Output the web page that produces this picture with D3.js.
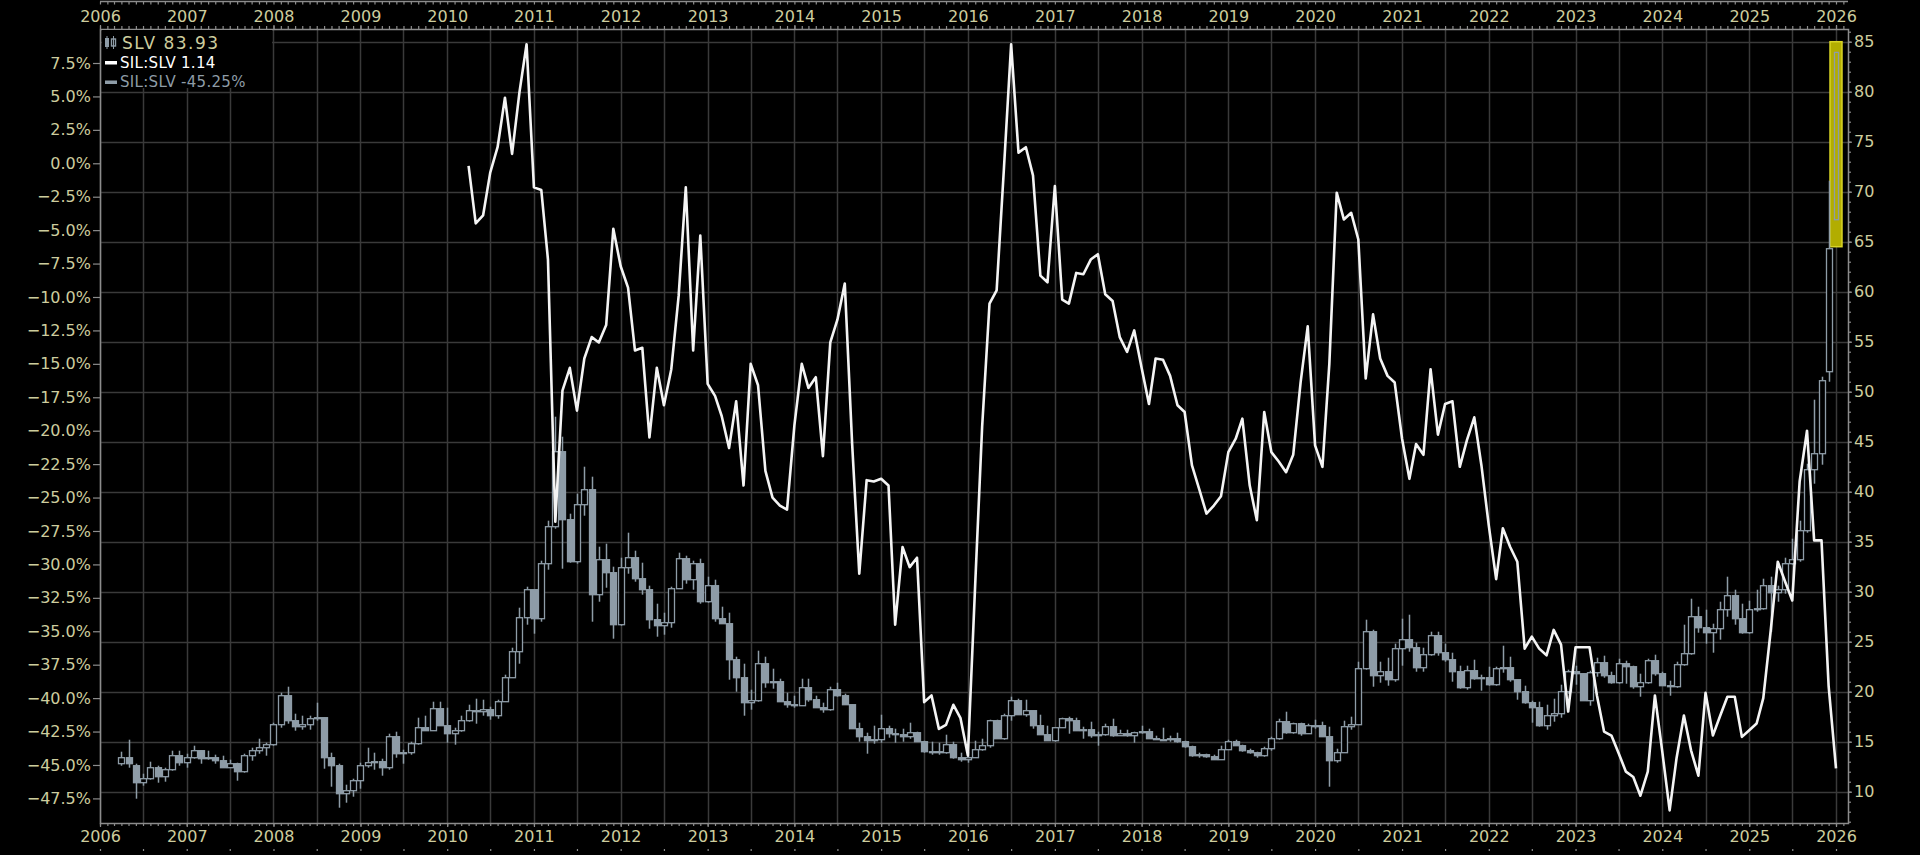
<!DOCTYPE html>
<html lang="en">
<head>
	<meta charset="utf-8">
	<title>SLV and SIL:SLV</title>
	<script src="https://d3js.org/d3.v7.min.js"></script>
	<style type="text/css">
		body { margin: 0; background: #000; overflow: hidden; }
		svg text { font-family: "DejaVu Sans", sans-serif; }
	</style>
</head>
<body>
<script type="text/javascript">

	//Tick labels
	let yearLabels = [2006, 2007, 2008, 2009, 2010, 2011, 2012, 2013, 2014, 2015, 2016,
		2017, 2018, 2019, 2020, 2021, 2022, 2023, 2024, 2025, 2026];
	let pctTicks = [7.5, 5, 2.5, 0, -2.5, -5, -7.5, -10, -12.5, -15, -17.5, -20, -22.5, -25,
		-27.5, -30, -32.5, -35, -37.5, -40, -42.5, -45, -47.5];
	let priceTicks = [85, 80, 75, 70, 65, 60, 55, 50, 45, 40, 35, 30, 25, 20, 15, 10];

	//SIL:SLV, % change, one point a month from Apr 2010
	let ratioStart = [2010, 4];
	let ratioPct = [
		-0.2, -4.5, -3.9, -0.7, 1.2, 4.9, 0.7, 5.3, 8.9,            // 2010
		-1.8, -2.0, -7.2, -26.8, -17.0, -15.3, -18.5, -14.6, -13.0, -13.4, -12.1, -4.9, // 2011
		-7.7, -9.3, -14.0, -13.8, -20.5, -15.3, -18.1, -15.4, -9.9, -1.8, -14.0, -5.4, // 2012
		-16.5, -17.4, -18.9, -21.3, -17.8, -24.1, -15.0, -16.6, -23.0, -25.0, -25.6, -25.9, // 2013
		-19.6, -15.0, -16.8, -16.0, -21.9, -13.4, -11.7, -9.0, -21.0, -30.7, -23.7, -23.8, // 2014
		-23.6, -24.1, -34.5, -28.7, -30.2, -29.5, -40.3, -39.8, -42.3, -42.0, -40.5, -41.5, // 2015
		-44.3, -31.4, -19.7, -10.5, -9.5, -0.3, 8.9, 0.8, 1.2, -0.9, -8.4, -8.9,   // 2016
		-1.7, -10.2, -10.5, -8.2, -8.3, -7.2, -6.8, -9.8, -10.3, -13.0, -14.1, -12.5, // 2017
		-15.3, -18.0, -14.6, -14.7, -15.9, -18.1, -18.6, -22.6, -24.4, -26.2, -25.6, -24.9, // 2018
		-21.6, -20.6, -19.1, -24.1, -26.7, -18.6, -21.6, -22.3, -23.1, -21.8, -16.4, -12.2, // 2019
		-21.1, -22.7, -15.0, -2.2, -4.2, -3.7, -5.7, -16.1, -11.3, -14.6, -15.9, -16.4, // 2020
		-20.6, -23.6, -21.0, -21.8, -15.4, -20.3, -18.0, -17.8, -22.7, -20.7, -19.0, -22.6, // 2021
		-27.1, -31.1, -27.3, -28.7, -29.8, -36.3, -35.4, -36.3, -36.8, -34.9, -36.0, -41.0, // 2022
		-36.2, -36.2, -36.2, -39.8, -42.5, -42.8, -44.1, -45.5, -45.9, -47.3, -45.5, -39.8, // 2023
		-44.0, -48.4, -44.5, -41.3, -43.9, -45.8, -39.6, -42.8, -41.3, -39.9, -39.9, -42.9, // 2024
		-42.4, -41.9, -40.0, -35.0, -29.8, -31.3, -32.7, -23.8, -20.0, -28.2, -28.2, -39.1, // 2025
		-45.25                                                        // 2026
	];

	//SLV monthly candles [open, high, low, close] from Apr 2006
	let slvStart = [2006, 4];
	let slvOHLC = [
		[12.8, 14.0, 12.6, 13.4], [13.4, 15.2, 12.4, 12.8], [12.6, 12.8, 9.3, 10.9], [10.9, 11.8, 10.6, 11.3],
		[11.3, 13.0, 11.2, 12.4], [12.4, 12.6, 10.9, 11.5], [11.5, 12.4, 11.0, 12.2], [12.2, 14.1, 12.1, 13.6],
		[13.6, 14.1, 12.6, 12.9],
		[12.9, 13.8, 12.4, 13.4], [13.4, 14.6, 13.3, 14.1], [14.1, 14.1, 12.8, 13.3], [13.3, 14.1, 13.2, 13.4],
		[13.4, 13.7, 12.8, 13.1], [13.1, 13.6, 12.4, 12.4], [12.4, 13.2, 12.4, 12.8], [12.8, 12.9, 11.1, 12.0],
		[12.0, 13.8, 11.9, 13.6], [13.6, 14.4, 13.1, 14.1], [14.1, 15.3, 13.8, 14.4], [14.4, 14.9, 13.6, 14.7],
		[14.7, 16.9, 14.6, 16.7], [16.7, 19.9, 16.4, 19.6], [19.6, 20.5, 16.8, 17.1], [17.1, 17.8, 16.1, 16.5],
		[16.5, 17.6, 16.2, 16.7], [16.7, 17.6, 16.2, 17.3], [17.3, 18.9, 17.1, 17.4], [17.4, 17.4, 12.3, 13.4],
		[13.4, 13.9, 10.5, 12.6], [12.6, 12.8, 8.4, 9.8], [9.8, 10.7, 8.9, 10.1], [10.1, 11.3, 9.5, 11.1],
		[11.1, 12.9, 10.3, 12.6], [12.6, 14.4, 12.4, 12.9], [12.9, 13.9, 12.2, 13.0], [13.0, 13.3, 11.6, 12.4],
		[12.4, 15.8, 12.2, 15.5], [15.5, 16.0, 13.4, 13.8], [13.8, 14.2, 12.8, 13.9], [13.9, 15.0, 13.7, 14.8],
		[14.8, 17.4, 14.7, 16.4], [16.4, 17.6, 16.1, 16.1], [16.1, 19.0, 16.1, 18.3], [18.3, 19.0, 16.6, 16.6],
		[16.6, 18.4, 14.9, 15.8], [15.8, 16.4, 14.7, 16.1], [16.1, 17.6, 16.0, 17.1], [17.1, 18.7, 17.0, 18.1],
		[18.1, 19.3, 16.8, 18.0], [18.0, 19.2, 17.6, 18.2], [18.2, 18.5, 17.2, 17.6], [17.6, 19.2, 17.3, 19.0],
		[19.0, 21.7, 19.0, 21.4], [21.4, 24.4, 21.4, 24.0], [24.0, 28.4, 22.8, 27.4], [27.4, 30.5, 26.7, 30.2],
		[30.2, 30.2, 25.8, 27.3], [27.3, 33.1, 27.0, 32.8], [32.8, 37.1, 32.2, 36.5], [36.5, 47.5, 36.3, 44.0],
		[44.0, 45.5, 32.3, 37.2], [37.2, 37.8, 32.9, 33.0], [33.0, 39.8, 32.8, 38.7], [38.7, 42.5, 37.6, 40.2],
		[40.2, 41.5, 27.0, 29.7], [29.7, 34.5, 29.0, 33.2], [33.2, 34.8, 30.4, 31.9], [31.9, 32.5, 25.3, 26.7],
		[26.7, 33.4, 26.6, 32.4], [32.4, 35.9, 31.8, 33.4], [33.4, 34.1, 31.0, 31.3], [31.3, 32.9, 29.7, 30.2],
		[30.2, 30.6, 26.3, 27.2], [27.2, 28.8, 25.5, 26.6], [26.6, 27.9, 25.7, 26.9], [26.9, 30.5, 26.4, 30.3],
		[30.3, 33.9, 30.3, 33.3], [33.3, 33.6, 30.8, 31.2], [31.2, 33.1, 30.2, 32.8], [32.8, 33.3, 28.8, 29.0],
		[29.0, 31.5, 28.9, 30.6], [30.6, 31.2, 27.0, 27.3], [27.3, 28.5, 27.0, 26.8], [26.8, 27.9, 21.2, 23.2],
		[23.2, 23.5, 20.0, 21.4], [21.4, 22.8, 17.6, 18.9], [18.9, 20.2, 18.2, 19.1], [19.1, 24.1, 19.0, 22.8],
		[22.8, 23.5, 20.4, 20.9], [20.9, 22.3, 20.3, 21.0], [21.0, 21.3, 19.0, 19.0], [19.0, 19.9, 18.4, 18.7],
		[18.7, 19.6, 18.4, 18.6], [18.6, 21.3, 18.6, 20.4], [20.4, 21.3, 19.0, 19.2], [19.2, 19.6, 18.5, 18.4],
		[18.4, 18.9, 17.9, 18.2], [18.2, 20.5, 18.1, 20.2], [20.2, 20.9, 19.5, 19.6], [19.6, 19.8, 18.8, 18.7],
		[18.7, 18.7, 16.3, 16.3], [16.3, 16.9, 15.0, 15.5], [15.5, 15.9, 13.8, 15.1], [15.1, 16.6, 14.8, 15.2],
		[15.2, 17.7, 14.9, 16.3], [16.3, 16.6, 15.4, 15.8], [15.8, 16.3, 14.9, 15.7], [15.7, 16.3, 15.0, 15.5],
		[15.5, 16.9, 15.3, 15.9], [15.9, 16.0, 15.0, 15.0], [15.0, 15.1, 13.9, 14.0], [14.0, 15.0, 13.7, 14.0],
		[14.0, 14.9, 13.7, 13.9], [13.9, 15.7, 13.8, 14.7], [14.7, 15.0, 13.3, 13.4], [13.4, 13.9, 13.0, 13.2],
		[13.2, 14.0, 12.9, 13.4], [13.4, 15.1, 13.4, 14.2], [14.2, 15.3, 14.1, 14.6], [14.6, 17.2, 14.4, 17.1],
		[17.1, 17.2, 15.4, 15.3], [15.3, 17.8, 15.2, 17.6], [17.6, 19.5, 17.1, 19.1], [19.1, 19.3, 17.7, 17.7],
		[17.7, 19.2, 17.5, 18.1], [18.1, 18.1, 16.3, 16.6], [16.6, 17.7, 15.8, 15.7], [15.7, 16.6, 15.1, 15.1],
		[15.1, 16.4, 15.0, 16.4], [16.4, 17.4, 16.4, 17.3], [17.3, 17.5, 15.8, 17.1], [17.1, 17.4, 16.1, 16.1],
		[16.1, 16.5, 15.3, 16.2], [16.2, 17.0, 15.4, 15.6], [15.6, 16.0, 14.6, 15.7], [15.7, 16.8, 15.6, 16.5],
		[16.5, 17.3, 15.5, 15.6], [15.6, 16.2, 15.6, 15.8], [15.8, 16.2, 15.5, 15.6], [15.6, 16.0, 14.9, 15.9],
		[15.9, 16.6, 15.8, 16.0], [16.0, 16.3, 15.3, 15.3], [15.3, 15.6, 15.2, 15.2], [15.2, 16.4, 15.2, 15.2],
		[15.2, 15.6, 15.0, 15.3], [15.3, 15.9, 14.9, 15.0], [15.0, 15.1, 14.4, 14.5], [14.5, 14.6, 13.5, 13.6],
		[13.6, 13.9, 13.4, 13.7], [13.7, 13.8, 13.4, 13.5], [13.5, 13.7, 13.2, 13.2], [13.2, 14.6, 13.3, 14.2],
		[14.2, 15.2, 14.2, 15.0], [15.0, 15.2, 14.6, 14.6], [14.6, 14.7, 14.0, 14.1], [14.1, 14.3, 13.8, 13.9],
		[13.9, 14.0, 13.4, 13.6], [13.6, 14.5, 13.5, 14.3], [14.3, 15.5, 14.1, 15.3], [15.3, 17.3, 15.2, 17.0],
		[17.0, 18.0, 15.8, 15.9], [15.9, 16.9, 15.8, 16.8], [16.8, 16.9, 15.6, 15.8], [15.8, 16.8, 15.8, 16.6],
		[16.6, 17.2, 16.3, 16.6], [16.6, 17.0, 15.5, 15.5], [15.5, 16.5, 10.5, 13.1], [13.1, 14.3, 12.9, 13.9],
		[13.9, 17.1, 13.9, 16.5], [16.5, 17.5, 16.2, 16.7], [16.7, 23.0, 16.7, 22.3], [22.3, 27.2, 22.2, 26.0],
		[26.0, 26.2, 20.5, 21.6], [21.6, 23.0, 20.9, 22.0], [22.0, 23.4, 20.6, 21.2], [21.2, 24.8, 21.0, 24.3],
		[24.3, 27.3, 22.6, 25.2], [25.2, 27.7, 24.0, 24.4], [24.4, 24.9, 22.0, 22.4], [22.4, 24.4, 22.0, 23.7],
		[23.7, 26.0, 23.6, 25.6], [25.6, 26.0, 23.6, 23.9], [23.9, 24.8, 23.0, 23.2], [23.2, 23.9, 21.0, 22.0],
		[22.0, 22.6, 20.3, 20.4], [20.4, 22.6, 20.2, 22.1], [22.1, 23.2, 21.2, 21.3], [21.3, 21.7, 20.1, 21.4],
		[21.4, 22.5, 20.6, 20.7], [20.7, 22.5, 20.6, 22.3], [22.3, 24.6, 21.9, 22.4], [22.4, 23.5, 21.0, 21.2],
		[21.2, 21.2, 19.2, 20.0], [20.0, 20.6, 18.8, 18.9], [18.9, 19.1, 16.9, 18.4], [18.4, 19.0, 16.5, 16.6],
		[16.6, 18.7, 16.2, 17.6], [17.6, 19.3, 17.0, 17.8], [17.8, 20.7, 17.4, 20.0], [20.0, 22.2, 19.8, 22.0],
		[22.0, 22.6, 20.7, 21.8], [21.8, 21.8, 19.2, 19.1], [19.1, 22.1, 18.6, 21.9], [21.9, 23.4, 21.5, 22.9],
		[22.9, 23.6, 21.4, 21.6], [21.6, 22.0, 20.8, 20.9], [20.9, 23.3, 20.8, 22.8], [22.8, 23.1, 20.8, 22.5],
		[22.5, 22.6, 20.3, 20.5], [20.5, 21.8, 19.5, 20.9], [20.9, 23.3, 20.8, 23.1], [23.1, 23.7, 21.6, 21.8],
		[21.8, 22.0, 20.6, 20.6], [20.6, 21.1, 19.6, 20.5], [20.5, 23.0, 20.4, 22.7], [22.7, 26.7, 22.6, 23.8],
		[23.8, 29.3, 23.7, 27.5], [27.5, 28.5, 25.9, 26.4], [26.4, 28.2, 24.8, 25.9], [25.9, 26.8, 23.9, 26.3],
		[26.3, 29.0, 25.2, 28.2], [28.2, 31.5, 27.5, 29.6], [29.6, 30.2, 26.7, 27.3], [27.3, 28.8, 25.8, 25.9],
		[25.9, 29.1, 25.8, 28.2], [28.2, 30.2, 28.0, 28.3], [28.3, 31.3, 28.2, 30.6], [30.6, 31.5, 26.0, 29.9],
		[29.9, 30.6, 29.0, 30.2], [30.2, 33.4, 29.8, 32.8], [32.8, 35.3, 32.7, 33.2], [33.2, 37.1, 33.0, 36.1],
		[36.1, 42.8, 35.9, 42.2], [42.2, 49.2, 40.8, 43.8], [43.8, 51.5, 42.7, 51.1], [52.0, 71.1, 51.0, 64.3],
		[67.2, 85.0, 64.5, 83.93]
	];

	//Legend
	let legendItems = [
		{ label: "SLV 83.93", color: "#cdcd9e", icon: "candle" },
		{ label: "SIL:SLV 1.14", color: "#ffffff", icon: "dash" },
		{ label: "SIL:SLV -45.25%", color: "#8e9ca7", icon: "dash" }
	];

	//Width and height
	let w = 1920;
	let h = 855;
	let plot = { left: 100, right: 1848, top: 29, bottom: 823 };

	let axisColor = "#8c8c8c";
	let gridColor = "#3a3a3a";
	let labelColor = "#cdcd9e";
	let candleColor = "#8e9ca7";

	let svg = d3.select("body")
		.append("svg")
		.attr("width", w)
		.attr("height", h)
		.style("background", "#000");

	//Scales
	let x = d3.scaleTime()
		.domain([new Date(2006, 0, 1), new Date(2026, 0, 1)])
		.range([100, 1836]);

	let yPct = d3.scaleLinear()
		.domain([-47.5, 7.5])
		.range([798.4, 63]);

	let yPrice = d3.scaleLinear()
		.domain([10, 85])
		.range([791.7, 41.7]);

	let yearDates = yearLabels.map(function (y) { return new Date(y, 0, 1); });
	let halfYears = d3.timeMonth.every(6).range(new Date(2006, 0, 1), new Date(2026, 0, 2));
	let months = d3.timeMonth.range(new Date(2006, 0, 1), new Date(2026, 2, 2))
		.filter(function (d) { return x(d) <= plot.right; });

	//Grid
	svg.append("g")
		.selectAll("line")
		.data(halfYears)
		.enter()
		.append("line")
		.attr("x1", function (d) { return Math.round(x(d)) + 0.5; })
		.attr("x2", function (d) { return Math.round(x(d)) + 0.5; })
		.attr("y1", plot.top)
		.attr("y2", plot.bottom)
		.attr("stroke", gridColor)
		.attr("stroke-width", 1.5);

	svg.append("g")
		.selectAll("line")
		.data(priceTicks)
		.enter()
		.append("line")
		.attr("x1", plot.left)
		.attr("x2", plot.right)
		.attr("y1", function (d) { return Math.round(yPrice(d)) + 0.5; })
		.attr("y2", function (d) { return Math.round(yPrice(d)) + 0.5; })
		.attr("stroke", gridColor)
		.attr("stroke-width", 1.5);

	//Clip
	svg.append("clipPath")
		.attr("id", "plotClip")
		.append("rect")
		.attr("x", plot.left)
		.attr("y", plot.top)
		.attr("width", plot.right - plot.left)
		.attr("height", plot.bottom - plot.top);

	let chart = svg.append("g").attr("clip-path", "url(#plotClip)");

	//Candles
	let candles = slvOHLC.map(function (d, i) {
		return {
			date: d3.timeMonth.offset(new Date(slvStart[0], slvStart[1] - 1, 1), i),
			o: d[0], h: d[1], l: d[2], c: d[3]
		};
	});
	let lastCandle = candles[candles.length - 1];
	let bodyW = 6;

	//last bar highlight
	chart.append("rect")
		.attr("x", x(lastCandle.date) - 6)
		.attr("y", yPrice(lastCandle.h))
		.attr("width", 12)
		.attr("height", yPrice(lastCandle.l) - yPrice(lastCandle.h))
		.attr("fill", "#b2ad00")
		.attr("stroke", "#d8d426")
		.attr("stroke-width", 1.5);

	let candleG = chart.append("g");

	candleG.selectAll("line")
		.data(candles)
		.enter()
		.append("line")
		.attr("x1", function (d) { return Math.round(x(d.date)) + 0.5; })
		.attr("x2", function (d) { return Math.round(x(d.date)) + 0.5; })
		.attr("y1", function (d) { return yPrice(d.h); })
		.attr("y2", function (d) { return yPrice(d.l); })
		.attr("stroke", candleColor)
		.attr("stroke-width", 1.5)
		.attr("opacity", function (d, i) { return i === candles.length - 1 ? 0 : 1; });

	candleG.selectAll("rect")
		.data(candles)
		.enter()
		.append("rect")
		.attr("x", function (d, i) {
			let bw = i === candles.length - 1 ? 4 : bodyW;
			return Math.round(x(d.date)) + 0.5 - bw / 2;
		})
		.attr("y", function (d) { return yPrice(Math.max(d.o, d.c)); })
		.attr("width", function (d, i) { return i === candles.length - 1 ? 4 : bodyW; })
		.attr("height", function (d) { return Math.max(1, Math.abs(yPrice(d.o) - yPrice(d.c))); })
		.attr("fill", function (d, i) {
			if (i === candles.length - 1) return "none";
			return d.c < d.o ? candleColor : "#000";
		})
		.attr("stroke", candleColor)
		.attr("stroke-width", 1.3);

	//SIL:SLV line
	let ratioData = ratioPct.map(function (v, i) {
		return { date: d3.timeMonth.offset(new Date(ratioStart[0], ratioStart[1] - 1, 1), i), value: v };
	});

	let line = d3.line()
		.x(function (d) { return x(d.date); })
		.y(function (d) { return yPct(d.value); });

	chart.append("path")
		.datum(ratioData)
		.attr("d", line)
		.attr("fill", "none")
		.attr("stroke", "#f4f4f4")
		.attr("stroke-width", 2.6)
		.attr("stroke-linejoin", "round");

	//Frame
	svg.append("rect")
		.attr("x", plot.left + 0.5)
		.attr("y", plot.top + 0.5)
		.attr("width", plot.right - plot.left)
		.attr("height", plot.bottom - plot.top)
		.attr("fill", "none")
		.attr("stroke", axisColor)
		.attr("stroke-width", 1.5);

	svg.append("line")
		.attr("x1", plot.left).attr("x2", plot.right)
		.attr("y1", 1.5).attr("y2", 1.5)
		.attr("stroke", axisColor)
		.attr("stroke-width", 1.5);

	function styleAxis(g) {
		g.select(".domain").remove();
		g.selectAll("line").attr("stroke", axisColor).attr("stroke-width", 1.2);
		g.selectAll("text")
			.attr("fill", labelColor)
			.attr("font-size", "16px")
			.attr("font-family", "DejaVu Sans, sans-serif");
	}

	//minor month ticks
	let minorTop = svg.append("g").attr("transform", "translate(0," + plot.top + ")")
		.call(d3.axisTop(x).tickValues(months).tickSize(3).tickFormat(""));
	styleAxis(minorTop);
	let minorTop2 = svg.append("g").attr("transform", "translate(0,1.5)")
		.call(d3.axisBottom(x).tickValues(months).tickSize(3).tickFormat(""));
	styleAxis(minorTop2);
	let minorBottom = svg.append("g").attr("transform", "translate(0," + plot.bottom + ")")
		.call(d3.axisBottom(x).tickValues(months).tickSize(3).tickFormat(""));
	styleAxis(minorBottom);
	let dotsBottom = svg.append("g").attr("transform", "translate(0,849)")
		.call(d3.axisBottom(x).tickValues(halfYears).tickSize(2).tickFormat(""));
	styleAxis(dotsBottom);

	//Year axes
	let topAxis = svg.append("g")
		.attr("transform", "translate(0," + plot.top + ")")
		.call(d3.axisTop(x).tickValues(yearDates).tickFormat(d3.timeFormat("%Y")).tickSize(4).tickPadding(3));
	styleAxis(topAxis);

	let bottomAxis = svg.append("g")
		.attr("transform", "translate(0," + plot.bottom + ")")
		.call(d3.axisBottom(x).tickValues(yearDates).tickFormat(d3.timeFormat("%Y")).tickSize(4).tickPadding(4));
	styleAxis(bottomAxis);

	//Left % axis
	let leftAxis = svg.append("g")
		.attr("transform", "translate(" + plot.left + ",0)")
		.call(d3.axisLeft(yPct).tickValues(pctTicks)
			.tickFormat(function (d) { return d3.format(".1f")(d) + "%"; })
			.tickSize(7).tickPadding(2));
	styleAxis(leftAxis);

	//Right price axis
	let priceMinor = d3.range(7, 87);
	let rightMinor = svg.append("g")
		.attr("transform", "translate(" + plot.right + ",0)")
		.call(d3.axisRight(yPrice).tickValues(priceMinor).tickSize(3).tickFormat(""));
	styleAxis(rightMinor);

	let rightAxis = svg.append("g")
		.attr("transform", "translate(" + plot.right + ",0)")
		.call(d3.axisRight(yPrice).tickValues(priceTicks).tickSize(4).tickPadding(2));
	styleAxis(rightAxis);

	//Legend
	let legend = svg.append("g").attr("transform", "translate(104,36)");
	legend.append("rect")
		.attr("x", -2).attr("y", -6)
		.attr("width", 170).attr("height", 58)
		.attr("fill", "#000");

	let legendRow = legend.selectAll("g.item")
		.data(legendItems)
		.enter()
		.append("g")
		.attr("class", "item")
		.attr("transform", function (d, i) { return "translate(0," + (i * 19.5 + 7) + ")"; });

	legendRow.filter(function (d) { return d.icon === "dash"; })
		.append("rect")
		.attr("x", 1).attr("y", -1.5)
		.attr("width", 12).attr("height", 3.5)
		.attr("fill", function (d) { return d.color; });

	let icon = legendRow.filter(function (d) { return d.icon === "candle"; });
	icon.append("rect").attr("x", 1).attr("y", -5).attr("width", 4).attr("height", 9).attr("fill", candleColor);
	icon.append("rect").attr("x", 7.5).attr("y", -4).attr("width", 4).attr("height", 7)
		.attr("fill", "none").attr("stroke", candleColor).attr("stroke-width", 1.4);
	icon.append("line").attr("x1", 3).attr("x2", 3).attr("y1", -7).attr("y2", 6).attr("stroke", candleColor);
	icon.append("line").attr("x1", 9.5).attr("x2", 9.5).attr("y1", -7).attr("y2", 6).attr("stroke", candleColor);

	legendRow.append("text")
		.attr("x", function (d) { return d.icon === "candle" ? 18 : 16; })
		.attr("y", 0)
		.attr("dy", "0.36em")
		.attr("font-size", function (d, i) { return i === 0 ? "17px" : "15px"; })
		.attr("letter-spacing", function (d, i) { return i === 0 ? "1.5px" : "0.3px"; })
		.attr("fill", function (d) { return d.color; })
		.text(function (d) { return d.label; });

</script>
</body>
</html>
